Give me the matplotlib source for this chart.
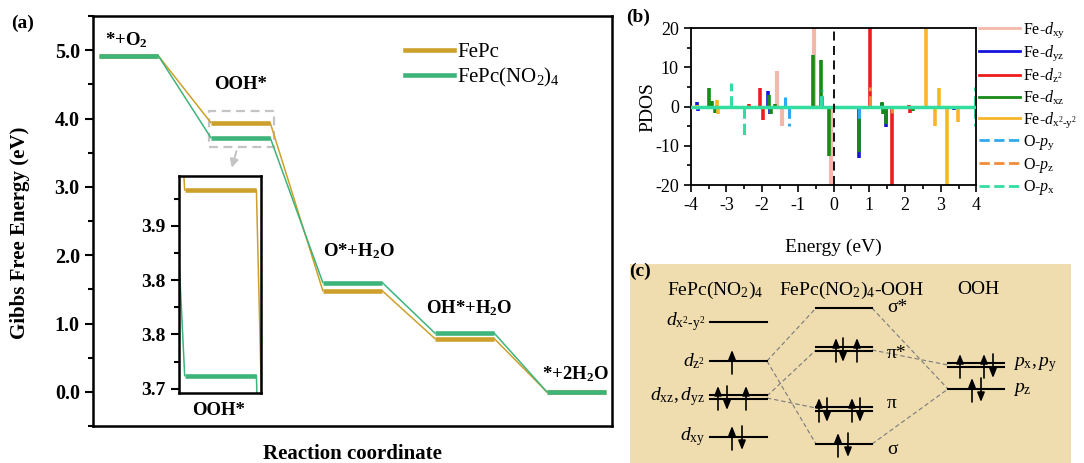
import numpy as np
import matplotlib.pyplot as plt
from matplotlib.ticker import MultipleLocator
from matplotlib.patches import Rectangle

plt.rcParams['font.family'] = 'Liberation Serif'
plt.rcParams['mathtext.fontset'] = 'custom'
plt.rcParams['mathtext.rm'] = 'Liberation Serif'
plt.rcParams['mathtext.it'] = 'Liberation Serif:italic'
plt.rcParams['mathtext.bf'] = 'Liberation Serif:bold'
plt.rcParams['axes.unicode_minus'] = False

# ---- (a) free energy diagram data ----
steps = ["*+O$_\\mathbf{2}$", "OOH*", "O*+H$_\\mathbf{2}$O", "OH*+H$_\\mathbf{2}$O", "*+2H$_\\mathbf{2}$O"]
g_fepc = [4.92, 3.94, 1.48, 0.78, 0.0]
g_no2 = [4.92, 3.72, 1.60, 0.86, 0.0]
# values as drawn in the OOH* zoom inset
inset_ooh_fepc = 3.883
inset_ooh_no2 = 3.712
inset_ticks = [3.70, 3.75, 3.80, 3.85]

# ---- (b) PDOS peaks: (energy eV, height) ----
fe_dxy = [(-0.54, 25), (-1.57, 9.2), (-1.45, -5.0), (-0.07, -25)]
fe_dyz = [(-3.81, 1.2), (-3.80, -1.0), (-1.84, 4.0), (-1.79, -2.0), (0.71, -13.2),
          (1.48, -5.2), (1.35, 1.0), (3.36, -0.8), (-3.42, 0.8)]
fe_dz2 = [(1.01, 25), (1.63, -25), (-2.07, 4.8), (-1.98, -3.3), (2.13, -1.7),
          (-2.36, 0.7), (2.10, 0.5)]
fe_dxz = [(-0.58, 13.2), (-0.35, 11.9), (-0.13, -12.5), (0.71, -11.5), (-3.48, 4.7),
          (-3.40, 1.5), (-1.82, 3.0), (-1.76, -2.0), (1.36, 1.2), (1.38, -1.9),
          (1.46, -4.5), (-3.32, -1.7), (-1.63, 0.8), (2.22, -1.2)]
fe_dx2y2 = [(2.58, 25), (2.94, 4.7), (2.83, -5.0), (3.18, -25), (3.48, -3.8),
            (-3.25, 1.8), (-3.24, -2.0), (-3.83, 0.5), (-1.60, -0.5)]
o_py = [(-1.37, 2.5), (-1.24, -5.0), (-0.33, 4.3), (0.71, -3.4), (-3.82, -0.5)]
o_pz = [(1.01, 5.0), (1.63, -1.5), (-3.30, 0.5), (-0.50, 0.5)]
o_px = [(-2.87, 6.0), (-2.50, -7.3), (3.95, 5.0), (3.97, -5.0), (-0.35, 4.0)]

W, H = 1084, 463


def px_rect(l, t, r, b):
    return [l / W, 1 - b / H, (r - l) / W, (b - t) / H]


c_fepc = '#CDA02C'
c_no2 = '#3DB47A'

fig = plt.figure(figsize=(W / 100, H / 100), dpi=100)

# ================= (a) =================
ax = fig.add_axes(px_rect(93, 16, 612, 426))
hw = 0.265


def draw_profile(axis, vals, col):
    for i, v in enumerate(vals):
        axis.plot([i - hw, i + hw], [v, v], color=col, lw=3.3, solid_capstyle='butt')
        if i < len(vals) - 1:
            axis.plot([i + hw, i + 1 - hw], [v, vals[i + 1]], color=col, lw=1.1)


draw_profile(ax, g_fepc, c_fepc)
draw_profile(ax, g_no2, c_no2)
ax.plot([], [], color=c_fepc, lw=3.3, label='FePc')
ax.plot([], [], color=c_no2, lw=3.3, label='FePc(NO$_2$)$_4$')

ax.set_xlim(-0.317, 4.317)
ax.set_ylim(-0.5, 5.5)
ax.set_xticks([])
ax.set_yticks([0, 1, 2, 3, 4, 5], [f"{t:.1f}" for t in [0, 1, 2, 3, 4, 5]],
              fontweight='bold', fontsize=14.5)
ax.yaxis.set_minor_locator(MultipleLocator(0.5))
ax.tick_params(axis='y', which='major', direction='out', length=6, width=1.5)
ax.tick_params(axis='y', which='minor', direction='out', length=3.5, width=1.5)
for s in ax.spines.values():
    s.set_linewidth(1.8)
ax.set_ylabel('Gibbs Free Energy (eV)', fontsize=15, fontweight='bold')
ax.yaxis.set_label_coords(-0.122, 0.47)
ax.set_xlabel('Reaction coordinate', fontsize=15, fontweight='bold')
ax.xaxis.set_label_coords(0.5, -0.045)

label_pos = [(-0.02, 5.15, 'center'), (1.0, 4.5, 'center'), (2.06, 2.06, 'center'),
             (3.04, 1.22, 'center'), (4.29, 0.26, 'right')]
for txt, (lx, ly, ha) in zip(steps, label_pos):
    ax.text(lx, ly, txt, ha=ha, va='center', fontsize=13.5, fontweight='bold')

ax.legend(loc='upper left', bbox_to_anchor=(0.601, 0.936), frameon=False, fontsize=15,
          handlelength=2.35, handletextpad=0.15, labelspacing=0.2, borderpad=0,
          borderaxespad=0)

ax.add_patch(Rectangle((0.719, 3.578), 0.58, 0.527, fill=False, ls=(0, (4, 2.5)),
                       ec='#C4C4C4', lw=1.6))
ax.annotate('', xy=(0.915, 3.24), xytext=(0.97, 3.56),
            arrowprops=dict(arrowstyle='-|>', color='#C4C4C4', lw=1.5, mutation_scale=12))
ax.text(0.80, -0.28, 'OOH*', ha='center', va='center', fontsize=13.5, fontweight='bold')

# inset
axin = fig.add_axes(px_rect(179, 176, 261, 393))
draw_profile(axin, [g_fepc[0], inset_ooh_fepc, g_fepc[2]], c_fepc)
draw_profile(axin, [g_no2[0], inset_ooh_no2, g_no2[2]], c_no2)
axin.set_xlim(0.693, 1.299)
axin.set_ylim(3.696, 3.896)
axin.set_xticks([])
axin.set_yticks(inset_ticks, [f"{t:.1f}" for t in inset_ticks], fontweight='bold', fontsize=14)
axin.yaxis.set_minor_locator(MultipleLocator(0.025))
axin.tick_params(axis='y', which='major', direction='out', length=6, width=1.5)
axin.tick_params(axis='y', which='minor', direction='out', length=3.5, width=1.5)
for s in axin.spines.values():
    s.set_linewidth(1.8)

fig.text(23 / W, 1 - 23 / H, '(a)', fontsize=14, fontweight='bold', ha='center', va='center')

# ================= (b) =================
axb = fig.add_axes(px_rect(690.7, 28.3, 976.4, 185))
orbitals = [
    ('Fe-$d_{\\mathrm{xy}}$', fe_dxy, '#F4B8AA', '-', 3.0),
    ('Fe-$d_{\\mathrm{yz}}$', fe_dyz, '#1414DC', '-', 2.6),
    ('Fe-$d_{\\mathrm{z^2}}$', fe_dz2, '#EE1C1C', '-', 2.6),
    ('Fe-$d_{\\mathrm{xz}}$', fe_dxz, '#178A17', '-', 2.6),
    ('Fe-$d_{\\mathrm{x^2\\text{-}y^2}}$', fe_dx2y2, '#F7B52A', '-', 2.6),
    ('O-$p_{\\mathrm{y}}$', o_py, '#2FA8EE', '--', 2.2),
    ('O-$p_{\\mathrm{z}}$', o_pz, '#F28C3A', '--', 2.2),
    ('O-$p_{\\mathrm{x}}$', o_px, '#33DDA0', '--', 2.2),
]
handles = []
for lab, pk, col, ls, lw in orbitals:
    e, h = zip(*pk)
    axb.vlines(e, 0, h, colors=col, linestyles=ls, lw=lw)
    hl, = axb.plot([], [], color=col, ls=ls, lw=2, label=lab)
    handles.append(hl)
axb.axhline(0, color='#33DDA0', lw=2.5, zorder=3)
axb.axvline(0, color='k', ls=(0, (5, 3)), lw=1.3, zorder=4)
axb.set_xlim(-4, 4)
axb.set_ylim(-20, 20)
axb.xaxis.set_major_locator(MultipleLocator(1))
axb.xaxis.set_minor_locator(MultipleLocator(0.5))
axb.yaxis.set_major_locator(MultipleLocator(10))
axb.yaxis.set_minor_locator(MultipleLocator(5))
axb.tick_params(which='major', direction='out', length=5, width=1.2, labelsize=13)
axb.tick_params(which='minor', direction='out', length=3, width=1.2)
for s in axb.spines.values():
    s.set_linewidth(1.3)
axb.set_xlabel('Energy (eV)', fontsize=14)
axb.xaxis.set_label_coords(0.5, -0.345)
axb.set_ylabel('PDOS', fontsize=14)
axb.yaxis.set_label_coords(-0.121, 0.5)
axb.legend(handles=handles, loc='upper left', bbox_to_anchor=(1.008, 1.05), frameon=False,
           fontsize=11.5, handlelength=2.6, handletextpad=0.2, labelspacing=0.22,
           borderpad=0, borderaxespad=0)
fig.text(638 / W, 1 - 17 / H, '(b)', fontsize=14, fontweight='bold', ha='center', va='center')

# ================= (c) =================
axc = fig.add_axes(px_rect(630, 264, 1071, 463))
axc.set_facecolor('#EFDDB0')
axc.set_xlim(630, 1071)
axc.set_ylim(463, 264)
axc.set_xticks([])
axc.set_yticks([])
for s in axc.spines.values():
    s.set_visible(False)

col_x = {'L': (710, 767), 'M': (816, 872), 'R': (948, 1004)}
mo_levels = [
    ('L', 322, 1, '$d_{\\mathrm{x^2\\text{-}y^2}}$', []),
    ('L', 361, 1, '$d_{\\mathrm{z}^2}$', [(732, 'u')]),
    ('L', 397, 2, '$d_{\\mathrm{xz}}, d_{\\mathrm{yz}}$', [(718, 'u'), (727, 'd'), (746, 'u')]),
    ('L', 437, 1, '$d_{\\mathrm{xy}}$', [(732, 'u'), (742, 'd')]),
    ('M', 308, 1, 'σ*', []),
    ('M', 349, 2, 'π*', [(836, 'u'), (843, 'd'), (857, 'u')]),
    ('M', 409, 2, 'π', [(819, 'u'), (827, 'd'), (852, 'u'), (860, 'd')]),
    ('M', 444, 1, 'σ', [(838, 'u'), (848, 'd')]),
    ('R', 365, 2, '$p_{\\mathrm{x}}, p_{\\mathrm{y}}$', [(960, 'u'), (984, 'u'), (993, 'd')]),
    ('R', 389, 1, '$p_{\\mathrm{z}}$', [(972, 'u'), (981, 'd')]),
]
mo_links = [((767, 361), (816, 308)), ((767, 361), (816, 444)), ((767, 396), (816, 350)),
            ((767, 398), (816, 408)), ((872, 350), (948, 365)), ((872, 308), (948, 389)),
            ((872, 444), (948, 389))]
for (x0, y0), (x1, y1) in mo_links:
    axc.plot([x0, x1], [y0, y1], color='#7A7A7A', lw=0.8, ls=(0, (4, 2.5)))
label_dy = {'σ*': 0, 'π*': 5, 'π': -6, 'σ': 6}
for col, y, n, lab, arrows in mo_levels:
    xa, xb = col_x[col]
    offs = [0] if n == 1 else [-2.2, 2.2]
    for o in offs:
        axc.plot([xa, xb], [y + o, y + o], color='k', lw=1.5)
    for xx, d in arrows:
        if d == 'u':
            tail, head = y + 13, y - 11
        else:
            tail, head = y - 11, y + 13
        axc.annotate('', xy=(xx, head), xytext=(xx, tail),
                     arrowprops=dict(arrowstyle='-|>,head_length=0.55,head_width=0.22',
                                     color='k', lw=1.2, mutation_scale=10,
                                     shrinkA=0, shrinkB=0))
    if col == 'L':
        axc.text(705, y, lab, ha='right', va='center', fontsize=14)
    elif col == 'M':
        axc.text(887, y + label_dy[lab], lab, ha='left', va='center', fontsize=14)
    else:
        axc.text(1013, y, lab, ha='left', va='center', fontsize=14)

axc.text(715, 290, 'FePc(NO$_2$)$_4$', ha='center', va='center', fontsize=14)
axc.text(852, 290, 'FePc(NO$_2$)$_4$-OOH', ha='center', va='center', fontsize=14)
axc.text(978, 290, 'OOH', ha='center', va='center', fontsize=14)
fig.text(640 / W, 1 - 271 / H, '(c)', fontsize=14, fontweight='bold', ha='center', va='center')

fig.savefig('out.png', dpi=100)
